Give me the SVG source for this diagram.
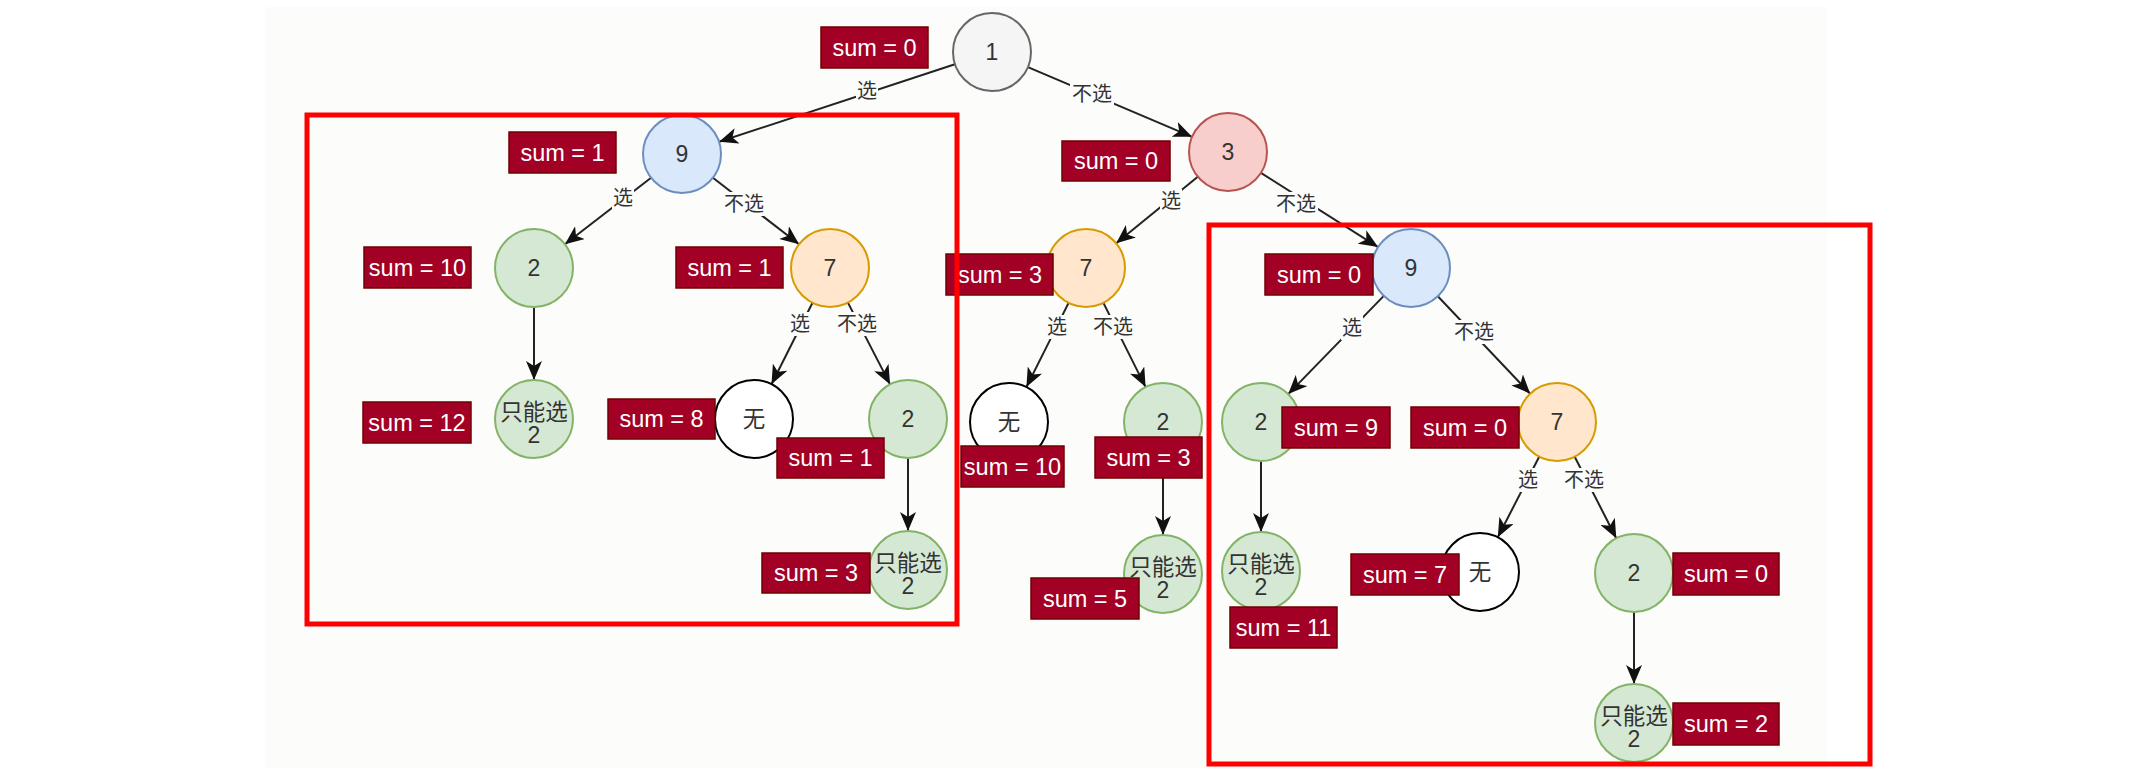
<svg xmlns="http://www.w3.org/2000/svg" width="2134" height="768" viewBox="0 0 2134 768">
<style>
.bg{fill:#fcfcfa}
.n{stroke-width:2}
.gray{fill:#f5f5f5;stroke:#666666}
.blue{fill:#dae8fc;stroke:#6c8ebf}
.red{fill:#f8cecc;stroke:#b85450}
.green{fill:#d5e8d4;stroke:#82b366}
.orange{fill:#ffe6cc;stroke:#d79b00}
.white{fill:#ffffff;stroke:#000000}
.nt{font-family:"Liberation Sans",Arial,"Noto Sans CJK SC",sans-serif;font-size:23px;fill:#333333;text-anchor:middle}
.ct{font-family:"Noto Sans CJK SC","Liberation Sans",sans-serif;font-size:22.5px;fill:#333333;text-anchor:middle}
.sb{fill:#a20025;stroke:#6f0000;stroke-width:1.5}
.st{font-family:"Liberation Sans",Arial,sans-serif;font-size:23.5px;fill:#ffffff;text-anchor:middle}
.e{stroke:#222222;stroke-width:2;fill:none;marker-end:url(#arr)}
.lb{fill:#fcfcfa}
.lt{font-family:"Noto Sans CJK SC","Liberation Sans",sans-serif;font-size:20px;fill:#333333;text-anchor:middle}
.hl{fill:none;stroke:#ff0000;stroke-width:5}
</style>
<defs>
<marker id="arr" viewBox="0 0 19 16" refX="19" refY="8" markerWidth="19" markerHeight="16" markerUnits="userSpaceOnUse" orient="auto">
<path d="M0,0 L19,8 L0,16 L5,8 Z" fill="#111111"/>
</marker>
</defs>
<rect width="2134" height="768" fill="#ffffff"/>
<rect class="bg" x="265" y="7" width="1562" height="761"/>

<g id="connectors">
<path class="e" d="M954.9,64.2 L719.1,141.8"/>
<path class="e" d="M1027.9,67.2 L1192.1,136.8"/>
<path class="e" d="M651.1,177.8 L564.9,244.2"/>
<path class="e" d="M712.9,177.8 L799.1,244.2"/>
<path class="e" d="M534,307 L534,380"/>
<path class="e" d="M812.5,302.8 L771.5,384.2"/>
<path class="e" d="M847.9,302.6 L890.1,384.4"/>
<path class="e" d="M908,458 L908,531"/>
<path class="e" d="M1197.8,176.7 L1116.2,243.3"/>
<path class="e" d="M1260.9,172.9 L1378.1,247.1"/>
<path class="e" d="M1068.6,302.9 L1026.4,387.1"/>
<path class="e" d="M1103.4,302.9 L1145.6,387.1"/>
<path class="e" d="M1163,461 L1163,535"/>
<path class="e" d="M1383.8,295.9 L1288.2,394.1"/>
<path class="e" d="M1437.8,296.3 L1530.2,393.7"/>
<path class="e" d="M1261,461 L1261,532"/>
<path class="e" d="M1539.2,456.7 L1497.8,537.3"/>
<path class="e" d="M1574.7,456.7 L1616.3,538.3"/>
<path class="e" d="M1634,612 L1634,684"/>
<g id="edge-labels">
<rect class="lb" x="856" y="79" width="22" height="24"/><text class="lt" x="867" y="98">选</text>
<rect class="lb" x="1070" y="82" width="44" height="24"/><text class="lt" x="1092" y="101">不选</text>
<rect class="lb" x="612" y="186" width="22" height="24"/><text class="lt" x="623" y="205">选</text>
<rect class="lb" x="722" y="192" width="44" height="24"/><text class="lt" x="744" y="211">不选</text>
<rect class="lb" x="789" y="312" width="22" height="24"/><text class="lt" x="800" y="331">选</text>
<rect class="lb" x="835" y="312" width="44" height="24"/><text class="lt" x="857" y="331">不选</text>
<rect class="lb" x="1160" y="189" width="22" height="24"/><text class="lt" x="1171" y="208">选</text>
<rect class="lb" x="1274" y="192" width="44" height="24"/><text class="lt" x="1296" y="211">不选</text>
<rect class="lb" x="1046" y="315" width="22" height="24"/><text class="lt" x="1057" y="334">选</text>
<rect class="lb" x="1091" y="315" width="44" height="24"/><text class="lt" x="1113" y="334">不选</text>
<rect class="lb" x="1341" y="316" width="22" height="24"/><text class="lt" x="1352" y="335">选</text>
<rect class="lb" x="1452" y="320" width="44" height="24"/><text class="lt" x="1474" y="339">不选</text>
<rect class="lb" x="1517" y="468" width="22" height="24"/><text class="lt" x="1528" y="487">选</text>
<rect class="lb" x="1562" y="468" width="44" height="24"/><text class="lt" x="1584" y="487">不选</text>
</g>
</g>

<g id="node-1"><circle class="n gray" cx="992" cy="52" r="39"/><text class="nt" x="992" y="60">1</text></g>
<g id="node-9-left"><circle class="n blue" cx="682" cy="154" r="39"/><text class="nt" x="682" y="162">9</text></g>
<g id="node-3"><circle class="n red" cx="1228" cy="152" r="39"/><text class="nt" x="1228" y="160">3</text></g>
<g id="node-2-a"><circle class="n green" cx="534" cy="268" r="39"/><text class="nt" x="534" y="276">2</text></g>
<g id="node-7-a"><circle class="n orange" cx="830" cy="268" r="39"/><text class="nt" x="830" y="276">7</text></g>
<g id="node-7-b"><circle class="n orange" cx="1086" cy="268" r="39"/><text class="nt" x="1086" y="276">7</text></g>
<g id="node-9-right"><circle class="n blue" cx="1411" cy="268" r="39"/><text class="nt" x="1411" y="276">9</text></g>
<g id="node-only2-a"><circle class="n green" cx="534" cy="419" r="39"/><text class="ct" x="534" y="420">只能选</text><text class="nt" x="534" y="443">2</text></g>
<g id="node-none-a"><circle class="n white" cx="754" cy="419" r="39"/><text class="ct" x="754" y="427">无</text></g>
<g id="node-2-b"><circle class="n green" cx="908" cy="419" r="39"/><text class="nt" x="908" y="427">2</text></g>
<g id="node-only2-b"><circle class="n green" cx="908" cy="570" r="39"/><text class="ct" x="908" y="571">只能选</text><text class="nt" x="908" y="594">2</text></g>
<g id="node-none-b"><circle class="n white" cx="1009" cy="422" r="39"/><text class="ct" x="1009" y="430">无</text></g>
<g id="node-2-c"><circle class="n green" cx="1163" cy="422" r="39"/><text class="nt" x="1163" y="430">2</text></g>
<g id="node-only2-c"><circle class="n green" cx="1163" cy="574" r="39"/><text class="ct" x="1163" y="575">只能选</text><text class="nt" x="1163" y="598">2</text></g>
<g id="node-2-d"><circle class="n green" cx="1261" cy="422" r="39"/><text class="nt" x="1261" y="430">2</text></g>
<g id="node-only2-d"><circle class="n green" cx="1261" cy="571" r="39"/><text class="ct" x="1261" y="572">只能选</text><text class="nt" x="1261" y="595">2</text></g>
<g id="node-7-c"><circle class="n orange" cx="1557" cy="422" r="39"/><text class="nt" x="1557" y="430">7</text></g>
<g id="node-none-c"><circle class="n white" cx="1480" cy="572" r="39"/><text class="ct" x="1480" y="580">无</text></g>
<g id="node-2-e"><circle class="n green" cx="1634" cy="573" r="39"/><text class="nt" x="1634" y="581">2</text></g>
<g id="node-only2-e"><circle class="n green" cx="1634" cy="723" r="39"/><text class="ct" x="1634" y="724">只能选</text><text class="nt" x="1634" y="747">2</text></g>

<g id="sum-1"><rect class="sb" x="821" y="27" width="107" height="41"/><text class="st" x="874.5" y="56">sum = 0</text></g>
<g id="sum-2"><rect class="sb" x="509" y="132" width="107" height="41"/><text class="st" x="562.5" y="161">sum = 1</text></g>
<g id="sum-3"><rect class="sb" x="364" y="247" width="107" height="41"/><text class="st" x="417.5" y="276">sum = 10</text></g>
<g id="sum-4"><rect class="sb" x="676" y="247" width="107" height="41"/><text class="st" x="729.5" y="276">sum = 1</text></g>
<g id="sum-5"><rect class="sb" x="946" y="254" width="107" height="41"/><text class="st" x="1000" y="283">sum = 3</text></g>
<g id="sum-6"><rect class="sb" x="1062" y="141" width="108" height="40"/><text class="st" x="1116" y="169">sum = 0</text></g>
<g id="sum-7"><rect class="sb" x="1265" y="254" width="108" height="41"/><text class="st" x="1319" y="283">sum = 0</text></g>
<g id="sum-8"><rect class="sb" x="363" y="402" width="108" height="41"/><text class="st" x="417" y="431">sum = 12</text></g>
<g id="sum-9"><rect class="sb" x="608" y="399" width="107" height="40"/><text class="st" x="661.5" y="427">sum = 8</text></g>
<g id="sum-10"><rect class="sb" x="777" y="438" width="107" height="40"/><text class="st" x="830.5" y="466">sum = 1</text></g>
<g id="sum-11"><rect class="sb" x="762" y="553" width="108" height="40"/><text class="st" x="816" y="581">sum = 3</text></g>
<g id="sum-12"><rect class="sb" x="961" y="446" width="103" height="41"/><text class="st" x="1012.5" y="475">sum = 10</text></g>
<g id="sum-13"><rect class="sb" x="1095" y="437" width="107" height="41"/><text class="st" x="1148.5" y="466">sum = 3</text></g>
<g id="sum-14"><rect class="sb" x="1031" y="578" width="108" height="41"/><text class="st" x="1085" y="607">sum = 5</text></g>
<g id="sum-15"><rect class="sb" x="1282" y="407" width="108" height="41"/><text class="st" x="1336" y="436">sum = 9</text></g>
<g id="sum-16"><rect class="sb" x="1230" y="607" width="107" height="41"/><text class="st" x="1283.5" y="636">sum = 11</text></g>
<g id="sum-17"><rect class="sb" x="1411" y="407" width="108" height="41"/><text class="st" x="1465" y="436">sum = 0</text></g>
<g id="sum-18"><rect class="sb" x="1351" y="554" width="108" height="41"/><text class="st" x="1405" y="583">sum = 7</text></g>
<g id="sum-19"><rect class="sb" x="1673" y="553" width="106" height="42"/><text class="st" x="1726" y="582">sum = 0</text></g>
<g id="sum-20"><rect class="sb" x="1673" y="703" width="106" height="42"/><text class="st" x="1726" y="732">sum = 2</text></g>

<g id="highlights">
<rect class="hl" x="307" y="115" width="650" height="509"/>
<rect class="hl" x="1209" y="225" width="661" height="539"/>
</g>
</svg>
